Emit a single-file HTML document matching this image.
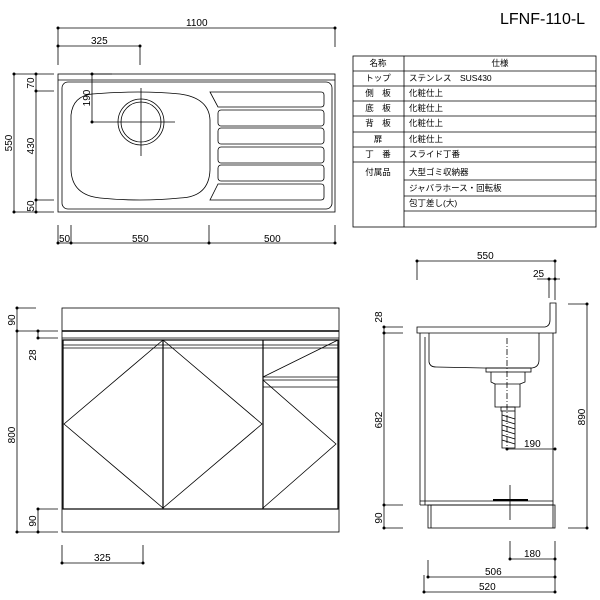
<!DOCTYPE html>
<html><head><meta charset="utf-8"><style>
body{margin:0;background:#fff}
svg{display:block}
text{font-family:"Liberation Sans","Noto Sans CJK JP",sans-serif;fill:#000}
.d{font-size:10px}
.t{font-size:8.5px}
</style></head><body>
<svg width="600" height="600" viewBox="0 0 600 600" xmlns="http://www.w3.org/2000/svg">
<g stroke="#000" fill="none" stroke-width="0.8">
<!-- TOP VIEW dims -->
<line x1="58" y1="28" x2="335" y2="28"/><line x1="335" y1="28" x2="335" y2="47"/><line x1="58" y1="28" x2="58" y2="65"/>
<line x1="58" y1="46" x2="140" y2="46"/><line x1="140" y1="46" x2="140" y2="65"/>
<line x1="14" y1="74" x2="14" y2="212"/><line x1="14" y1="74" x2="54" y2="74"/><line x1="14" y1="212" x2="54" y2="212"/>
<line x1="36" y1="74" x2="36" y2="212"/><line x1="36" y1="91" x2="54" y2="91"/><line x1="36" y1="200" x2="54" y2="200"/>
<line x1="58" y1="225" x2="58" y2="243"/><line x1="71" y1="225" x2="71" y2="243"/><line x1="209" y1="225" x2="209" y2="243"/><line x1="335" y1="225" x2="335" y2="243"/>
<line x1="58" y1="243" x2="335" y2="243"/>
<!-- sink top -->
<rect x="58" y="74" width="277" height="138"/>
<line x1="58" y1="80" x2="335" y2="80"/>
<rect x="62" y="82" width="270" height="127" rx="6"/>
<path d="M92 94 Q140 90 180 94 Q209 98 210 120 L210 170 Q209 197 180 198 Q140 202 100 198 Q72 195 71 170 L71 115 Q73 96 92 94 Z"/>
<circle cx="141" cy="122" r="23"/><circle cx="141" cy="122" r="20"/>
<line x1="141" y1="88" x2="141" y2="156"/><line x1="92" y1="122" x2="175" y2="122"/>
<line x1="92" y1="74" x2="92" y2="122"/><line x1="92" y1="74" x2="112" y2="74"/>
<path d="M210 92 L321 92 Q324 92 324 95 L324 104 Q324 107 321 107 L218 107 Z" />
<rect x="218" y="110" width="106" height="16" rx="3"/>
<rect x="218" y="128" width="106" height="16" rx="3"/>
<rect x="218" y="147" width="106" height="16" rx="3"/>
<rect x="218" y="165" width="106" height="16" rx="3"/>
<path d="M218 184 L321 184 Q324 184 324 187 L324 197 Q324 200 321 200 L210 200 Z"/>
<!-- TABLE -->
<rect x="353" y="56" width="243" height="171"/>
<line x1="404" y1="56" x2="404" y2="227"/>
<line x1="353" y1="71" x2="596" y2="71"/><line x1="353" y1="86" x2="596" y2="86"/><line x1="353" y1="101" x2="596" y2="101"/>
<line x1="353" y1="116" x2="596" y2="116"/><line x1="353" y1="132" x2="596" y2="132"/><line x1="353" y1="147" x2="596" y2="147"/>
<line x1="353" y1="162" x2="596" y2="162"/><line x1="404" y1="180" x2="596" y2="180"/><line x1="404" y1="196" x2="596" y2="196"/><line x1="404" y1="211" x2="596" y2="211"/>
<!-- FRONT VIEW -->
<rect x="62" y="308" width="277" height="224"/>
<line x1="62" y1="331" x2="339" y2="331" stroke-width="1.5"/>
<line x1="62" y1="338" x2="339" y2="338"/>
<rect x="63" y="340" width="275" height="169" stroke-width="1.2"/>
<line x1="63" y1="345" x2="338" y2="345"/><line x1="63" y1="348" x2="338" y2="348"/>
<line x1="163" y1="340" x2="163" y2="509" stroke-width="1.2"/><line x1="263" y1="340" x2="263" y2="509" stroke-width="1.2"/>
<path d="M163 340 L64 424 L163 508 L262 424 Z"/>
<path d="M338 340 L263 377"/>
<line x1="263" y1="377" x2="338" y2="377"/><line x1="263" y1="380" x2="338" y2="380"/><line x1="263" y1="387" x2="338" y2="387"/>
<path d="M263 380 L336 444 L263 508"/>
<line x1="17" y1="308" x2="17" y2="532"/><line x1="17" y1="308" x2="36" y2="308"/><line x1="17" y1="331" x2="58" y2="331"/><line x1="17" y1="532" x2="58" y2="532"/>
<line x1="38" y1="331" x2="38" y2="338"/><line x1="38" y1="338" x2="58" y2="338"/>
<line x1="38" y1="509" x2="38" y2="532"/><line x1="38" y1="509" x2="58" y2="509"/>
<line x1="62" y1="545" x2="62" y2="563"/><line x1="143" y1="545" x2="143" y2="563"/><line x1="62" y1="563" x2="143" y2="563"/>
<!-- SIDE VIEW -->
<line x1="417" y1="261" x2="555" y2="261"/><line x1="417" y1="261" x2="417" y2="280"/><line x1="555" y1="261" x2="555" y2="300"/>
<line x1="537" y1="279" x2="560" y2="279"/><line x1="549" y1="279" x2="549" y2="298"/>
<path d="M417 327 L545 327 Q550 326 550 320 L550 303 L556 303 L556 333 L417 333 Z"/>
<line x1="420" y1="333" x2="420" y2="505"/><line x1="425" y1="337" x2="425" y2="505"/>
<line x1="553" y1="333" x2="553" y2="528"/>
<path d="M429 333 L429 362 Q430 367 436 367 L484 368 L532 368 Q539 367 539 360 L539 333"/>
<rect x="486" y="368" width="45" height="4"/>
<path d="M491 372 L491 382 L495 384 L495 407 L520 407 L520 384 L525 382 L525 372"/>
<line x1="495" y1="384" x2="520" y2="384"/>
<rect x="501" y="407" width="14" height="4"/>
<path d="M502 411 L502 448 L515 448 L515 411"/>
<path d="M502 415 L515 419 M502 420 L515 424 M502 425 L515 429 M502 430 L515 434 M502 435 L515 439 M502 440 L515 444"/>
<line x1="507" y1="338" x2="507" y2="448" stroke-dasharray="6 2 1 2"/>
<line x1="507" y1="449" x2="555" y2="449"/>
<line x1="420" y1="501" x2="553" y2="501"/><line x1="420" y1="505" x2="553" y2="505"/>
<rect x="428" y="505" width="127" height="23"/><line x1="431" y1="505" x2="431" y2="528"/>
<line x1="493" y1="500" x2="528" y2="500" stroke-width="2"/><line x1="510" y1="485" x2="510" y2="520"/>
<line x1="384" y1="327" x2="384" y2="528"/>
<line x1="384" y1="327" x2="403" y2="327"/><line x1="384" y1="333" x2="403" y2="333"/><line x1="384" y1="505" x2="403" y2="505"/><line x1="384" y1="528" x2="403" y2="528"/>
<line x1="587" y1="304" x2="587" y2="528"/><line x1="568" y1="304" x2="587" y2="304"/><line x1="568" y1="528" x2="587" y2="528"/>
<line x1="510" y1="541" x2="510" y2="559"/><line x1="510" y1="559" x2="555" y2="559"/><line x1="555" y1="541" x2="555" y2="592"/>
<line x1="428" y1="560" x2="428" y2="577"/><line x1="428" y1="577" x2="555" y2="577"/>
<line x1="424" y1="575" x2="424" y2="592"/><line x1="424" y1="592" x2="555" y2="592"/>
</g>
<g fill="#000">
<circle cx="58" cy="28" r="1.5"/><circle cx="335" cy="28" r="1.5"/><circle cx="58" cy="46" r="1.5"/><circle cx="140" cy="46" r="1.5"/>
<circle cx="14" cy="74" r="1.5"/><circle cx="14" cy="212" r="1.5"/><circle cx="36" cy="74" r="1.5"/><circle cx="36" cy="91" r="1.5"/><circle cx="36" cy="200" r="1.5"/><circle cx="36" cy="212" r="1.5"/>
<circle cx="58" cy="243" r="1.5"/><circle cx="71" cy="243" r="1.5"/><circle cx="209" cy="243" r="1.5"/><circle cx="335" cy="243" r="1.5"/>
<circle cx="92" cy="74" r="1.5"/><circle cx="92" cy="122" r="1.5"/>
<circle cx="17" cy="308" r="1.5"/><circle cx="17" cy="331" r="1.5"/><circle cx="17" cy="532" r="1.5"/><circle cx="38" cy="331" r="1.5"/><circle cx="38" cy="338" r="1.5"/><circle cx="38" cy="509" r="1.5"/><circle cx="38" cy="532" r="1.5"/>
<circle cx="62" cy="563" r="1.5"/><circle cx="143" cy="563" r="1.5"/>
<circle cx="417" cy="261" r="1.5"/><circle cx="555" cy="261" r="1.5"/><circle cx="549" cy="279" r="1.5"/><circle cx="555" cy="279" r="1.5"/>
<circle cx="384" cy="327" r="1.5"/><circle cx="384" cy="333" r="1.5"/><circle cx="384" cy="505" r="1.5"/><circle cx="384" cy="528" r="1.5"/>
<circle cx="587" cy="304" r="1.5"/><circle cx="587" cy="528" r="1.5"/><circle cx="555" cy="449" r="1.5"/><circle cx="507" cy="449" r="1.5"/>
<circle cx="510" cy="559" r="1.5"/><circle cx="555" cy="559" r="1.5"/><circle cx="428" cy="577" r="1.5"/><circle cx="555" cy="577" r="1.5"/><circle cx="424" cy="592" r="1.5"/><circle cx="555" cy="592" r="1.5"/>
</g>
<text x="500" y="24" style="font-size:16px">LFNF-110-L</text>
<g class="d">
<text x="186" y="26">1100</text><text x="91" y="44">325</text>
<text transform="translate(12,143) rotate(-90)" text-anchor="middle">550</text>
<text transform="translate(34,83) rotate(-90)" text-anchor="middle">70</text>
<text transform="translate(34,146) rotate(-90)" text-anchor="middle">430</text>
<text transform="translate(34,206) rotate(-90)" text-anchor="middle">50</text>
<text transform="translate(90,98) rotate(-90)" text-anchor="middle">190</text>
<text x="59" y="242">50</text><text x="132" y="242">550</text><text x="264" y="242">500</text>
<text transform="translate(15,320) rotate(-90)" text-anchor="middle">90</text>
<text transform="translate(36,355) rotate(-90)" text-anchor="middle">28</text>
<text transform="translate(15,435) rotate(-90)" text-anchor="middle">800</text>
<text transform="translate(36,521) rotate(-90)" text-anchor="middle">90</text>
<text x="94" y="561">325</text>
<text x="477" y="259">550</text><text x="533" y="277">25</text>
<text transform="translate(382,317) rotate(-90)" text-anchor="middle">28</text>
<text transform="translate(382,420) rotate(-90)" text-anchor="middle">682</text>
<text transform="translate(382,518) rotate(-90)" text-anchor="middle">90</text>
<text transform="translate(585,417) rotate(-90)" text-anchor="middle">890</text>
<text x="524" y="447">190</text><text x="524" y="557">180</text><text x="485" y="575">506</text><text x="479" y="590">520</text>
</g>
<g class="t">
<text x="378" y="66" text-anchor="middle">名称</text><text x="500" y="66" text-anchor="middle">仕様</text>
<text x="378" y="81" text-anchor="middle">トップ</text><text x="409" y="81">ステンレス　SUS430</text>
<text x="378" y="96" text-anchor="middle">側　板</text><text x="409" y="96">化粧仕上</text>
<text x="378" y="111" text-anchor="middle">底　板</text><text x="409" y="111">化粧仕上</text>
<text x="378" y="126" text-anchor="middle">背　板</text><text x="409" y="126">化粧仕上</text>
<text x="378" y="142" text-anchor="middle">扉</text><text x="409" y="142">化粧仕上</text>
<text x="378" y="157" text-anchor="middle">丁　番</text><text x="409" y="157">スライド丁番</text>
<text x="378" y="175" text-anchor="middle">付属品</text><text x="409" y="175">大型ゴミ収納器</text>
<text x="409" y="191">ジャバラホース・回転板</text>
<text x="409" y="206">包丁差し(大)</text>
</g>
</svg>
</body></html>
